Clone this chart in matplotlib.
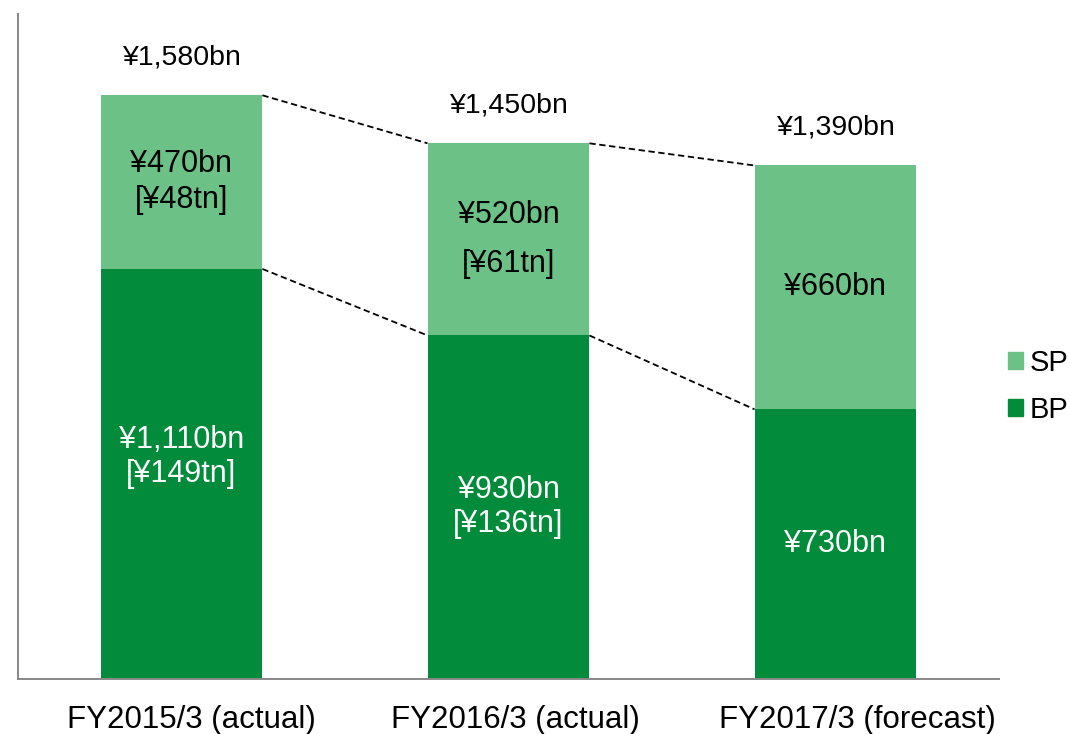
import numpy as np
from matplotlib import pyplot as plt
from matplotlib.patches import Patch
from matplotlib.transforms import ScaledTranslation

plt.rcParams['font.family'] = ['Liberation Sans', 'DejaVu Sans']

periods = ["FY2015/3 (actual)", "FY2016/3 (actual)", "FY2017/3 (forecast)"]
bp = [1110, 930, 730]
sp = [470, 520, 660]
totals = [1580, 1450, 1390]
bp_labels = ["¥1,110bn\n[¥149tn]", "¥930bn\n[¥136tn]", "¥730bn"]
sp_labels = ["¥470bn\n[¥48tn]", "¥520bn\n[¥61tn]", "¥660bn"]
total_labels = ["¥1,580bn", "¥1,450bn", "¥1,390bn"]

bp_color = "#028B3A"
sp_color = "#6CC187"

fig = plt.figure(figsize=(10.7, 7.34), dpi=100)
ax = fig.add_axes([0.0168, 0.0749, 0.9168, 0.906])

x = np.arange(len(periods))
w = 0.495
ax.bar(x, bp, width=w, color=bp_color, label="BP")
ax.bar(x, sp, width=w, bottom=bp, color=sp_color, label="SP")

# dashed connectors between neighbouring bars
for i in range(len(x) - 1):
    for a, b in [(bp[i], bp[i + 1]), (bp[i] + sp[i], bp[i + 1] + sp[i + 1])]:
        ax.plot([x[i] + w / 2, x[i + 1] - w / 2], [a, b], color="black",
                linestyle=(0, (3.5, 2)), linewidth=1.3)

bp_shift = [12, 0, 0]          # points
sp_spacing = [1.27, 1.85, 1.0]
for i in range(len(x)):
    ax.annotate(bp_labels[i], (x[i], bp[i] / 2), xytext=(0, bp_shift[i]),
                textcoords="offset points", ha="center", va="center",
                color="white", fontsize=22, linespacing=1.17)
    ax.text(x[i], bp[i] + sp[i] / 2, sp_labels[i], ha="center", va="center",
            color="black", fontsize=22, linespacing=sp_spacing[i])
    ax.annotate(total_labels[i], (x[i], totals[i]), xytext=(0, 27.5),
                textcoords="offset points", ha="center", va="center",
                fontsize=20.5)

ax.set_xlim(-0.5, 2.5)
ax.set_ylim(0, 1800)
ax.set_xticks(x)
ax.set_xticklabels(periods, fontsize=22.5)
ax.tick_params(axis="x", length=0, pad=19)
# category labels sit a little right of the bar centres
for lab, dx in zip(ax.get_xticklabels(), [7, 5, 16]):
    lab.set_transform(lab.get_transform() + ScaledTranslation(dx / 72, 0, fig.dpi_scale_trans))
ax.set_yticks([])
for s in ["top", "right"]:
    ax.spines[s].set_visible(False)
for s in ["left", "bottom"]:
    ax.spines[s].set_color("#888888")
    ax.spines[s].set_linewidth(1.4)

handles = [Patch(color=sp_color, label="SP"), Patch(color=bp_color, label="BP")]
fig.legend(handles=handles, loc="center left", bbox_to_anchor=(0.942, 0.4734),
           frameon=False, fontsize=21, handlelength=0.51, handleheight=0.51,
           handletextpad=0.24, labelspacing=0.65, borderpad=0, borderaxespad=0)

plt.savefig("out.png", dpi=100)
